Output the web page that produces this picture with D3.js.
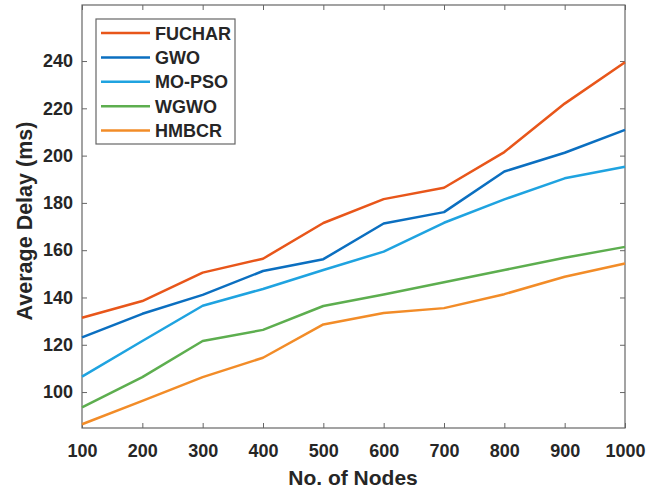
<!DOCTYPE html>
<html><head><meta charset="utf-8">
<script src="https://cdn.jsdelivr.net/npm/d3@7"></script>
<style>body{margin:0;background:#fff}svg{display:block}text{font-family:"Liberation Sans",Arial,sans-serif;font-weight:bold;fill:#262626}</style>
</head><body><svg id="c" width="666" height="491"></svg>
<script>
const nodes = [100,200,300,400,500,600,700,800,900,1000];
const fuchar = [131.4,138.5,150.5,156.4,171.5,181.6,186.4,201.5,222,239.5];
const gwo    = [123.1,133.1,141.1,151.2,156.2,171.3,176.1,193.3,201.2,210.9];
const mopso  = [106.5,121.6,136.5,143.6,151.6,159.4,171.6,181.5,190.4,195.3];
const wgwo   = [93.5,106.3,121.6,126.3,136.4,141.3,146.4,151.6,156.8,161.4];
const hmbcr  = [86.4,96.3,106.3,114.5,128.6,133.4,135.5,141.4,148.8,154.4];
const seriesNames = ["FUCHAR","GWO","MO-PSO","WGWO","HMBCR"];
const seriesColors = ["#E8561A","#0B6FC0","#1FA3E0","#5DAE4F","#F28C28"];
const yTicks = [100,120,140,160,180,200,220,240];
const series = [fuchar,gwo,mopso,wgwo,hmbcr];

const svg = d3.select("#c");
const L=82,R=625,T=5,B=428;
const x = d3.scaleLinear().domain([100,1000]).range([L,R]);
const y = d3.scaleLinear().domain([84.8,263.7]).range([B,T]);
const axisColor="#666";
const fmt = d3.format("d");

// axes
const gx = svg.append("g").attr("transform",`translate(0,${B})`)
  .call(d3.axisBottom(x).tickValues(nodes).tickFormat(fmt).tickSizeInner(-5).tickSizeOuter(0).tickPadding(16));
const gxt = svg.append("g").attr("transform",`translate(0,${T})`)
  .call(d3.axisTop(x).tickValues(nodes).tickSizeInner(-5).tickSizeOuter(0).tickFormat(""));
const gy = svg.append("g").attr("transform",`translate(${L},0)`)
  .call(d3.axisLeft(y).tickValues(yTicks).tickFormat(fmt).tickSizeInner(-5).tickSizeOuter(0).tickPadding(9));
const gyr = svg.append("g").attr("transform",`translate(${R},0)`)
  .call(d3.axisRight(y).tickValues(yTicks).tickSizeInner(-5).tickSizeOuter(0).tickFormat(""));
[gx,gxt,gy,gyr].forEach(g=>{
  g.selectAll("path.domain").remove();
  g.selectAll("line").attr("stroke",axisColor).attr("stroke-width",1);
  g.selectAll("text").style("font-size","18px").style("font-family","'Liberation Sans',Arial,sans-serif").style("font-weight","bold").attr("fill","#262626");
});
svg.append("rect").attr("x",L).attr("y",T).attr("width",R-L).attr("height",B-T)
  .attr("fill","none").attr("stroke",axisColor).attr("stroke-width",1.2);

// lines
const line = d3.line().x((d,i)=>x(nodes[i])).y(d=>y(d));
series.forEach((s,k)=>{
  svg.append("path").datum(s).attr("d",line).attr("fill","none")
    .attr("stroke",seriesColors[k]).attr("stroke-width",2.5).attr("stroke-linejoin","round");
});

// axis labels
svg.append("text").attr("x",353).attr("y",485).attr("text-anchor","middle")
  .style("font-size","21px").text("No. of Nodes");
svg.append("text").attr("transform",`translate(31.5,221) rotate(-90)`).attr("text-anchor","middle")
  .style("font-size","21.5px").text("Average Delay (ms)");

// legend
const lg = svg.append("g");
lg.append("rect").attr("x",96).attr("y",19).attr("width",139).attr("height",125)
  .attr("fill","#fff").attr("stroke",axisColor).attr("stroke-width",1.2);
seriesNames.forEach((n,k)=>{
  const yy = 33 + k*24.4;
  lg.append("line").attr("x1",101).attr("x2",150).attr("y1",yy).attr("y2",yy)
    .attr("stroke",seriesColors[k]).attr("stroke-width",2.5);
  lg.append("text").attr("x",155).attr("y",yy+6.5).style("font-size","18px").text(n);
});
</script></body></html>
